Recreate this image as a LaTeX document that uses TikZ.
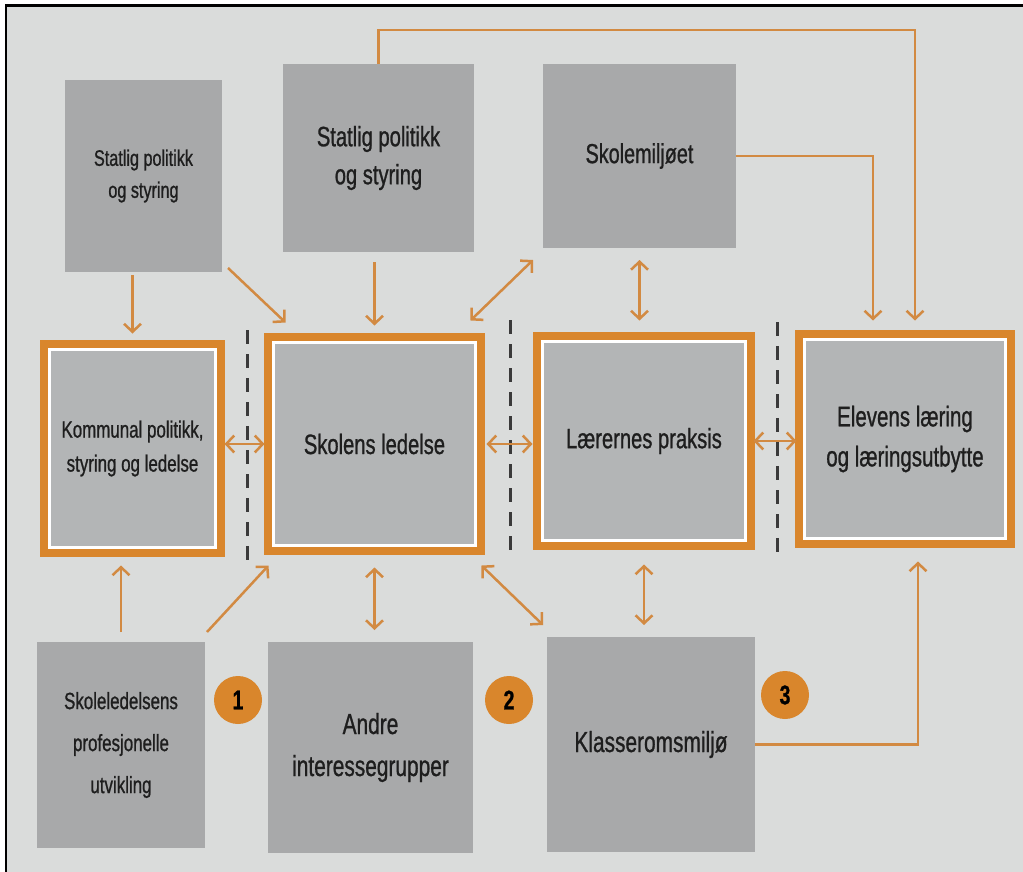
\documentclass[tikz,border=0pt]{standalone}
\usepackage{fontspec}
\setmainfont[FakeStretch=0.72,FakeBold=0.9]{Liberation Sans}
\usetikzlibrary{arrows.meta,calc}
\definecolor{orangeC}{HTML}{D9862C}
\definecolor{arrC}{HTML}{D28A42}
\definecolor{bgC}{HTML}{DADCDB}
\definecolor{boxC}{HTML}{A8A9AA}
\definecolor{innerC}{HTML}{B3B5B6}
\definecolor{textC}{HTML}{1E1E1E}
\definecolor{dashC}{HTML}{3A3A3A}
\begin{document}
\begin{tikzpicture}[x=1pt,y=-1pt,
  fs/.style 2 args={font=\fontsize{#1}{#2}\selectfont},
  graybox/.style={rectangle, fill=boxC, inner sep=0pt, outer sep=0pt, align=center, text=textC},
  framebox/.style={rectangle, fill=innerC, draw=white, line width=3pt,
    preaction={draw=orangeC, line width=19pt}, inner sep=0pt, outer sep=0pt, align=center, text=textC},
  arr/.style={draw=arrC, line width=2.5pt, -{Straight Barb[length=8pt,width=17pt]}},
  darr/.style={draw=arrC, line width=2.5pt, {Straight Barb[length=8pt,width=17pt]}-{Straight Barb[length=8pt,width=17pt]}},
  dline/.style={draw=dashC, line width=3pt, dash pattern=on 14pt off 10pt},
  numc/.style={circle, fill=orangeC, minimum size=48pt, inner sep=0pt, font=\bfseries\fontsize{27}{27}\selectfont, text=black}
]
\useasboundingbox (0,0) rectangle (1023,872);
\fill[white] (0,0) rectangle (1023,872);
\fill[bgC] (6,6) rectangle (1023,872);
\draw[black, line width=2.5pt] (6,872) -- (6,5.5) -- (1023,5.5);

% top row
\node[graybox, minimum width=157pt, minimum height=192pt, fs={22.5}{32}] (s1) at (143.5,176) {Statlig politikk\\og styring};
\node[graybox, minimum width=191pt, minimum height=188pt, fs={28}{38}] (s2) at (378.5,158) {Statlig politikk\\og styring};
\node[graybox, minimum width=193pt, minimum height=184pt, fs={27.5}{38}] (sm) at (639.5,156) {Skolemiljøet};

% dashed separators
\draw[dline] (247,330) -- (247,565);
\draw[dline] (510,320) -- (510,560);
\draw[dline] (777,322) -- (777,558);

% middle row
\node[framebox, minimum width=166pt, minimum height=198pt, fs={23.5}{34}] (k) at (132.5,448.5) {Kommunal politikk,\\styring og ledelse};
\node[framebox, minimum width=202pt, minimum height=203pt, fs={28}{38}] (sl) at (374.5,444) {Skolens ledelse};
\node[framebox, minimum width=203pt, minimum height=199pt, fs={28}{38}] (lp) at (644,441) {Lærernes praksis};
\node[framebox, minimum width=201pt, minimum height=199pt, fs={28.5}{40}] (el) at (905,439) {Elevens læring\\og læringsutbytte};

% bottom row
\node[graybox, minimum width=168pt, minimum height=206pt, fs={23.5}{42}] (sp) at (121,745) {Skoleledelsens\\profesjonelle\\utvikling};
\node[graybox, minimum width=205pt, minimum height=211pt, fs={29}{42}] (ag) at (370.5,747.5) {Andre\\interessegrupper};
\node[graybox, minimum width=208pt, minimum height=215pt, fs={29}{30}] (kr) at (651,744.5) {Klasseromsmiljø};

% numbers
\node[numc] (c1) at (238,700) {1};
\node[numc] (c2) at (509,700) {2};
\node[numc] (c3) at (785,695) {3};

% connectors
\draw[arr, shorten <=3pt, shorten >=16pt] (k.north |- s1.south) -- (k.north);
\draw[arr] ([shift={(6,-4)}]s1.south east) -- ([shift={(12,-20)}]sl.north west);
\draw[arr, shorten <=10pt, shorten >=17pt] (sl.north |- s2.south) -- (sl.north);
\draw[darr] ([shift={(-5,-22)}]sl.north east) -- ([shift={(-10,12)}]sm.south west);
\draw[darr, shorten <=12pt, shorten >=21pt] (sm.south) -- (sm.south |- lp.north);
\draw[arr, shorten >=19pt] (sm.east) -| ([xshift=-32pt]el.north);
\draw[arr, shorten >=19pt] (s2.north) -- ++(0,-34) -| ([xshift=10pt]el.north);
\draw[darr, shorten <=9pt, shorten >=9pt] (k.east |- sl.west) -- (sl.west);
\draw[darr, shorten <=11pt, shorten >=10pt] (sl.east) -- (sl.east -| lp.west);
\draw[darr, shorten <=8pt, shorten >=8pt] (lp.east) -- (lp.east -| el.west);
\draw[arr, shorten <=10pt, shorten >=18pt] (sp.north) -- (sp.north |- k.south);
\draw[arr] ([shift={(2,-10)}]sp.north east) -- ([shift={(-5,20)}]sl.south west);
\draw[darr, shorten <=22pt, shorten >=12pt] (sl.south) -- (sl.south |- ag.north);
\draw[darr] ([shift={(6,20)}]sl.south east) -- ([shift={(-4,-12)}]kr.north west);
\draw[darr, shorten <=24pt, shorten >=12pt] (lp.south) -- (lp.south |- kr.north);
\draw[arr, shorten >=23pt] (kr.east) -| ([xshift=13pt]el.south);
\end{tikzpicture}
\end{document}
